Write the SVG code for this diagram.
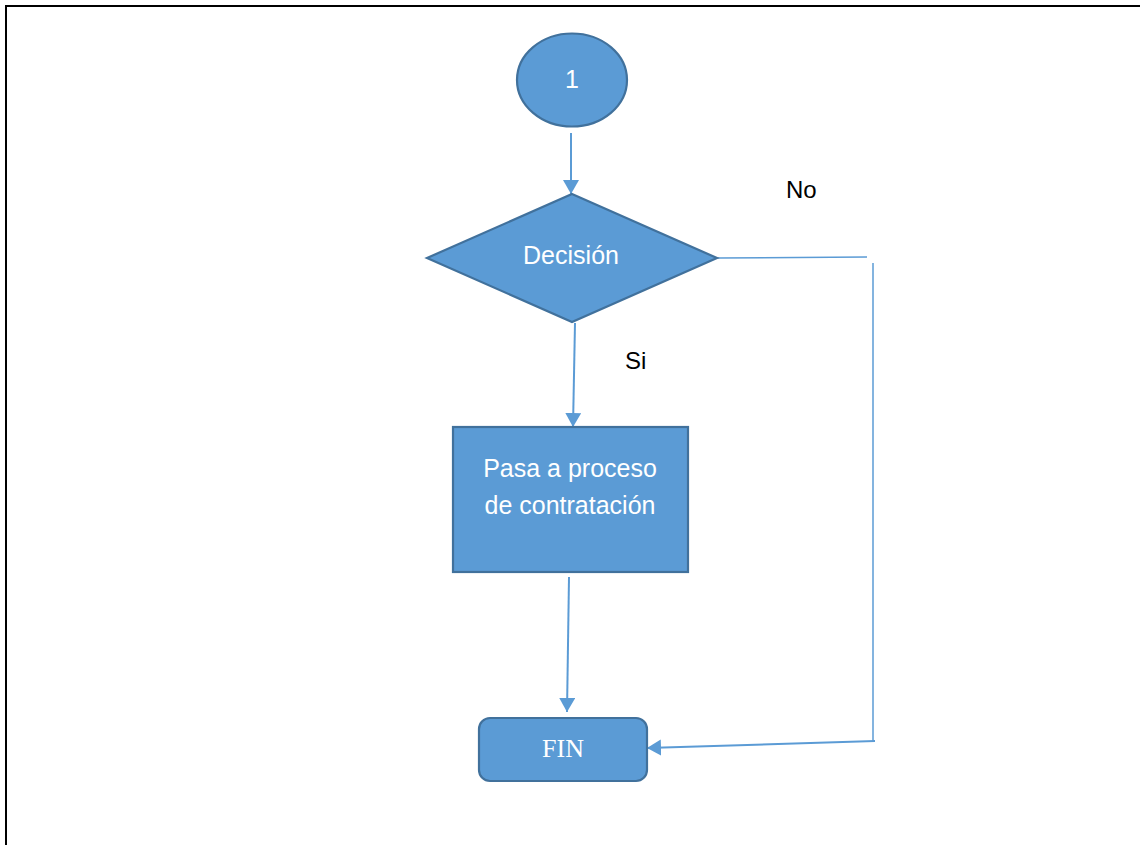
<svg xmlns="http://www.w3.org/2000/svg" width="1140" height="845" viewBox="0 0 1140 845">
  <style>
    .shape { fill: #5B9BD5; stroke: #41719C; stroke-width: 2.2; }
    .lbl { fill: #FFFFFF; font-family: "Liberation Sans", Arial, sans-serif; font-size: 25px; text-anchor: middle; }
    .serif { fill: #FFFFFF; font-family: "Liberation Serif", "Times New Roman", serif; font-size: 26px; text-anchor: middle; }
    .note { fill: #000000; font-family: "Liberation Sans", Arial, sans-serif; font-size: 24px; }
    .link { fill: none; stroke: #5B9BD5; stroke-width: 2; }
    .thin { fill: none; stroke: #5B9BD5; stroke-width: 1.5; }
  </style>
  <defs>
    <marker id="arrow" markerUnits="userSpaceOnUse" markerWidth="15" markerHeight="17" refX="14" refY="8" orient="auto">
      <path d="M0,0 L14,8 L0,16 z" fill="#5B9BD5"/>
    </marker>
  </defs>

  <!-- page frame -->
  <path d="M6,845 L6,6 L1140,6" fill="none" stroke="#000000" stroke-width="2"/>

  <!-- connectors -->
  <g id="connectors">
    <line class="link" x1="571" y1="133" x2="571" y2="194" marker-end="url(#arrow)"/>
    <line class="link" x1="575" y1="323" x2="573" y2="427" marker-end="url(#arrow)"/>
    <line class="link" x1="569" y1="577" x2="567" y2="712" marker-end="url(#arrow)"/>
    <line class="thin" x1="718" y1="258" x2="867" y2="257"/>
    <line class="thin" x1="873" y1="263" x2="873" y2="742"/>
    <line class="link" x1="875" y1="741" x2="647" y2="748" marker-end="url(#arrow)"/>
    <text class="note" x="786" y="198">No</text>
    <text class="note" x="625" y="369">Si</text>
  </g>

  <!-- start connector -->
  <g id="node-start">
    <ellipse class="shape" cx="572" cy="80" rx="55" ry="46.5"/>
    <text class="lbl" x="572" y="88">1</text>
  </g>

  <!-- decision -->
  <g id="node-decision">
    <polygon class="shape" points="572,194 717,258 572,322 427,258"/>
    <text class="lbl" x="571" y="264">Decisión</text>
  </g>

  <!-- process -->
  <g id="node-process">
    <rect class="shape" x="453" y="427" width="235" height="145"/>
    <text class="lbl" x="570" y="477">Pasa a proceso</text>
    <text class="lbl" x="570" y="514">de contratación</text>
  </g>

  <!-- end -->
  <g id="node-end">
    <rect class="shape" x="479" y="718" width="168" height="63" rx="11" ry="11"/>
    <text class="serif" x="563" y="757">FIN</text>
  </g>
</svg>
